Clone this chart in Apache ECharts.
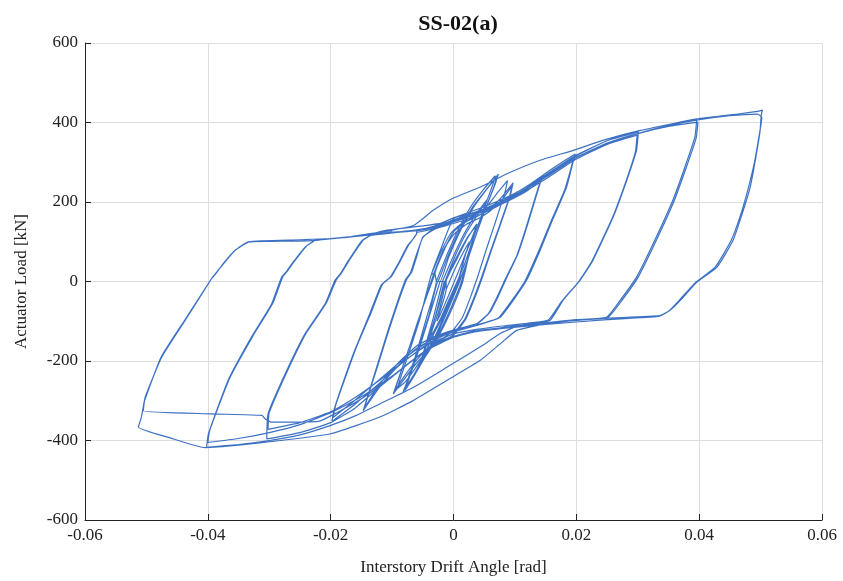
<!DOCTYPE html>
<html>
<head>
<meta charset="utf-8">
<script src="https://cdn.jsdelivr.net/npm/echarts@6/dist/echarts.min.js"></script>
<style>
  html, body {margin: 0; padding: 0; background: #fff;}
  #chart {width: 843px; height: 581px;}
</style>
</head>
<body>
<div id="chart"></div>
<script>
// drift angle [rad], load [kN], cycle by cycle
const cyc0025 = [[-0.0012,-20],[0.0005,40],[0.002,85],[0.0026,100],[0.0022,80],[0.0008,25],[-0.0008,-35],[-0.0022,-85],[-0.0027,-100],[-0.0023,-80],[-0.0012,-20]]
const cyc00375a = [[-0.0012,0],[0.0005,55],[0.0025,115],[0.0038,145],[0.0034,125],[0.002,70],[0.0008,0],[-0.001,-65],[-0.003,-125],[-0.004,-150],[-0.0036,-128],[-0.0022,-65],[-0.0012,0]]
const cyc00375b = [[-0.0014,0],[0.0003,55],[0.0023,112],[0.0037,140],[0.0033,120],[0.0019,66],[0.0007,0],[-0.0011,-62],[-0.0031,-122],[-0.0041,-146],[-0.0037,-124],[-0.0024,-62],[-0.0014,0]]
const cyc005a = [[-0.0015,0],[0,55],[0.002,120],[0.004,170],[0.0052,200],[0.0048,175],[0.0032,110],[0.0015,0],[0,-60],[-0.002,-125],[-0.004,-175],[-0.0053,-205],[-0.0048,-180],[-0.003,-90],[-0.0015,0]]
const cyc005b = [[-0.0018,0],[-0.0002,58],[0.0018,122],[0.0038,172],[0.0054,205],[0.0049,178],[0.0033,112],[0.0013,0],[-0.0003,-62],[-0.0023,-128],[-0.0043,-180],[-0.0056,-212],[-0.005,-184],[-0.0033,-92],[-0.0018,0]]
const cyc0075a = [[-0.0025,0],[-0.001,60],[0.001,130],[0.003,185],[0.005,225],[0.0073,270],[0.0068,245],[0.005,175],[0.0035,110],[0.0022,50],[0.001,0],[-0.001,-75],[-0.003,-145],[-0.005,-200],[-0.0065,-240],[-0.0079,-274],[-0.0074,-250],[-0.0058,-175],[-0.004,-85],[-0.0025,0]]
const cyc0075b = [[-0.0022,0],[-0.0008,60],[0.0012,130],[0.0032,185],[0.0052,228],[0.007,262],[0.0066,240],[0.0049,170],[0.0034,105],[0.0021,45],[0.0009,0],[-0.0012,-75],[-0.0032,-145],[-0.0052,-200],[-0.0066,-238],[-0.0077,-265],[-0.0072,-242],[-0.0056,-170],[-0.0038,-80],[-0.0022,0]]
const cyc0075c = [[-0.0028,0],[-0.0012,62],[0.0008,132],[0.0028,188],[0.0048,230],[0.0068,266],[0.0064,244],[0.0047,172],[0.0032,108],[0.0019,48],[0.0006,0],[-0.0015,-72],[-0.0035,-142],[-0.0055,-206],[-0.0068,-246],[-0.0082,-278],[-0.0076,-254],[-0.006,-178],[-0.0043,-86],[-0.0028,0]]
const cyc010a = [[-0.003,20],[-0.0015,80],[0,125],[0.002,150],[0.004,165],[0.006,185],[0.008,215],[0.0097,248],[0.0093,220],[0.0078,150],[0.0062,80],[0.0048,15],[0.0035,-40],[0.002,-95],[0,-135],[-0.002,-150],[-0.004,-172],[-0.006,-205],[-0.008,-245],[-0.0098,-283],[-0.0092,-255],[-0.0075,-180],[-0.0058,-100],[-0.0042,-30],[-0.003,20]]
const cyc010b = [[-0.0032,20],[-0.0017,78],[0,118],[0.002,143],[0.004,158],[0.006,178],[0.008,208],[0.0095,240],[0.0091,212],[0.0076,145],[0.006,75],[0.0046,12],[0.0033,-42],[0.0018,-96],[0,-130],[-0.002,-145],[-0.004,-165],[-0.006,-198],[-0.008,-238],[-0.0096,-275],[-0.009,-248],[-0.0074,-175],[-0.0057,-98],[-0.0043,-30],[-0.0032,20]]
const cyc010c = [[-0.0036,18],[-0.002,76],[-0.0004,122],[0.0016,150],[0.0036,168],[0.0056,192],[0.0074,228],[0.0088,254],[0.0084,226],[0.007,158],[0.0055,88],[0.0041,20],[0.0028,-38],[0.0014,-92],[-0.0004,-128],[-0.0024,-150],[-0.0044,-178],[-0.0062,-218],[-0.0078,-252],[-0.0092,-270],[-0.0087,-246],[-0.0071,-172],[-0.0055,-95],[-0.0045,-34],[-0.0036,18],[-0.0022,76]]
const cyc015a = [[0,158],[0.003,172],[0.006,188],[0.009,208],[0.012,233],[0.0144,262],[0.0138,232],[0.012,140],[0.0105,70],[0.0087,11],[0.0072,-40],[0.0059,-78],[0.004,-105],[0,-125],[-0.003,-142],[-0.006,-168],[-0.009,-212],[-0.012,-265],[-0.0147,-325],[-0.0142,-300],[-0.0125,-215],[-0.0108,-130],[-0.0092,-55],[-0.0078,5],[-0.007,22],[-0.0062,60],[-0.005,110],[-0.003,136]]
const cyc015b = [[0,152],[0.003,166],[0.006,182],[0.009,203],[0.012,228],[0.0142,255],[0.0136,226],[0.0118,135],[0.0103,65],[0.0085,8],[0.007,-42],[0.0057,-80],[0.0038,-106],[0,-122],[-0.003,-138],[-0.006,-162],[-0.009,-205],[-0.012,-258],[-0.0145,-318],[-0.014,-292],[-0.0123,-210],[-0.0106,-126],[-0.009,-52],[-0.0076,6],[-0.0068,24],[-0.006,62],[-0.005,112],[-0.003,132]]
const cyc020a = [[0,150],[0.004,172],[0.008,203],[0.012,240],[0.016,283],[0.0198,321],[0.0193,290],[0.0184,237],[0.016,150],[0.0141,78],[0.0119,3],[0.0097,-48],[0.0076,-90],[0.005,-105],[0.002,-118],[-0.001,-132],[-0.004,-155],[-0.008,-200],[-0.012,-255],[-0.016,-308],[-0.0198,-352],[-0.0194,-320],[-0.018,-255],[-0.016,-170],[-0.0136,-80],[-0.0118,-10],[-0.0103,11],[-0.009,45],[-0.0075,90],[-0.006,120]]
const cyc020b = [[-0.006,122],[-0.003,133],[0,146],[0.004,166],[0.008,196],[0.012,233],[0.016,276],[0.0196,313],[0.0191,283],[0.0181,230],[0.0157,145],[0.0138,74],[0.0116,0],[0.0094,-50],[0.0073,-92],[0.005,-104],[0.002,-116],[-0.001,-128],[-0.004,-150],[-0.008,-193],[-0.012,-246],[-0.016,-298],[-0.0196,-342],[-0.0192,-312],[-0.0178,-250],[-0.0158,-165],[-0.0134,-78],[-0.0116,-8],[-0.0101,13],[-0.0088,48],[-0.0073,92],[-0.006,122]]
const cyc030a = [[-0.006,125],[-0.003,138],[0,155],[0.005,183],[0.01,218],[0.015,265],[0.02,316],[0.025,354],[0.0301,376],[0.0298,330],[0.028,245],[0.026,162],[0.0227,53],[0.0206,3],[0.0178,-48],[0.0157,-98],[0.012,-108],[0.008,-116],[0.004,-125],[0,-140],[-0.004,-170],[-0.008,-215],[-0.012,-265],[-0.016,-318],[-0.02,-355],[-0.025,-380],[-0.0304,-396],[-0.0302,-333],[-0.0274,-232],[-0.0242,-132],[-0.0209,-56],[-0.0193,3],[-0.0185,18],[-0.0171,53],[-0.0149,103],[-0.0135,116],[-0.01,122],[-0.006,128]]
const cyc030b = [[-0.006,128],[-0.003,136],[0,150],[0.005,177],[0.01,212],[0.015,258],[0.02,308],[0.025,345],[0.0299,368],[0.0296,325],[0.0278,240],[0.0258,158],[0.0225,50],[0.0204,0],[0.0176,-50],[0.0155,-96],[0.012,-105],[0.008,-112],[0.004,-120],[0,-132],[-0.004,-158],[-0.008,-200],[-0.012,-248],[-0.016,-292],[-0.02,-328],[-0.025,-355],[-0.0302,-372],[-0.03,-330],[-0.0272,-230],[-0.024,-130],[-0.0207,-54],[-0.0191,4],[-0.0183,20],[-0.0169,55],[-0.0147,104],[-0.0133,117],[-0.01,124],[-0.006,128]]
const cyc040a = [[-0.006,128],[-0.003,140],[0,160],[0.005,188],[0.01,222],[0.015,268],[0.02,318],[0.025,354],[0.03,378],[0.035,395],[0.0396,407],[0.0393,363],[0.0375,280],[0.0357,204],[0.0325,95],[0.0298,11],[0.0271,-48],[0.0249,-90],[0.02,-96],[0.015,-104],[0.01,-115],[0.0076,-131],[0.0043,-165],[-0.0011,-216],[-0.0065,-266],[-0.012,-308],[-0.016,-338],[-0.02,-362],[-0.025,-386],[-0.03,-400],[-0.035,-410],[-0.0402,-417],[-0.0399,-383],[-0.0367,-249],[-0.0329,-140],[-0.0296,-56],[-0.028,11],[-0.0272,25],[-0.0263,45],[-0.0242,86],[-0.0226,103],[-0.02,108],[-0.015,115],[-0.01,123],[-0.006,130]]
const cyc040b = [[-0.006,130],[-0.003,138],[0,154],[0.005,182],[0.01,216],[0.015,262],[0.02,312],[0.025,348],[0.03,372],[0.035,390],[0.0398,401],[0.0395,360],[0.0377,278],[0.0359,202],[0.0327,93],[0.03,9],[0.0273,-50],[0.0251,-91],[0.02,-97],[0.015,-106],[0.008,-116],[0.003,-126],[-0.002,-148],[-0.006,-190],[-0.01,-238],[-0.015,-290],[-0.02,-330],[-0.025,-360],[-0.03,-380],[-0.035,-395],[-0.04,-405],[-0.0397,-375],[-0.0365,-245],[-0.0327,-138],[-0.0294,-54],[-0.0278,12],[-0.027,27],[-0.0261,47],[-0.024,88],[-0.0224,104],[-0.018,110],[-0.014,117],[-0.012,124]]
const cyc050a = [[-0.012,124],[-0.0065,141],[-0.0033,179],[0,210],[0.0043,237],[0.0087,271],[0.0141,305],[0.0195,330],[0.025,358],[0.0304,380],[0.0357,397],[0.0396,409],[0.0466,422],[0.0496,428],[0.0503,431],[0.0501,418],[0.0499,376],[0.0492,310],[0.0483,237],[0.047,170],[0.0455,103],[0.0429,36],[0.0396,-2],[0.0369,-48],[0.0352,-73],[0.0336,-86],[0.0243,-93],[0.0152,-106],[0.0103,-123],[0.0076,-157],[0.0043,-199],[-0.0011,-249],[-0.0065,-299],[-0.012,-341],[-0.02,-383],[-0.0282,-400],[-0.035,-412],[-0.0404,-418],[-0.046,-394],[-0.0513,-366],[-0.0508,-340],[-0.0502,-291],[-0.0475,-190],[-0.0437,-98],[-0.0394,7],[-0.0386,22],[-0.0383,28],[-0.0375,45],[-0.0356,78],[-0.0334,99],[-0.03,101],[-0.0231,103],[-0.0139,118],[-0.0112,128]]
const cyc050b = [[-0.0112,128],[-0.005,140],[0,152],[0.005,178],[0.01,212],[0.015,258],[0.02,308],[0.025,345],[0.03,372],[0.035,392],[0.04,407],[0.045,417],[0.0495,421],[0.0502,412],[0.0498,370],[0.049,300],[0.048,235],[0.0468,170],[0.0452,103],[0.0426,36],[0.0393,-4],[0.0366,-50],[0.035,-75],[0.0333,-88],[0.025,-96],[0.015,-108],[0.008,-118],[0.003,-128],[-0.002,-150],[-0.006,-190],[-0.01,-240],[-0.015,-295],[-0.019,-330],[-0.022,-352],[-0.0296,-354],[-0.0307,-345],[-0.0312,-337],[-0.0394,-333],[-0.0505,-325],[-0.0503,-300],[-0.0476,-190],[-0.0438,-98],[-0.0395,5],[-0.0385,25],[-0.0356,78],[-0.0334,100],[-0.025,105],[-0.018,110],[-0.0139,120],[-0.01,128]]

const loadHistory = [
  cyc0025, cyc00375a, cyc00375b, cyc005a, cyc005b,
  cyc0075a, cyc0075b, cyc0075c, cyc010a, cyc010b, cyc010c,
  cyc015a, cyc015b, cyc020a, cyc020b, cyc030a, cyc030b,
  cyc040a, cyc040b, cyc050a, cyc050b
].flat()

const serif = '"Liberation Serif", "Times New Roman", serif'

const myChart = echarts.init(document.getElementById('chart'))
myChart.setOption({
  animation: false,
  title: {
    text: 'SS-02(a)',
    left: 453,
    top: 8,
    textAlign: 'center',
    textStyle: {fontFamily: serif, fontWeight: 'bold', fontSize: 22, color: '#111'}
  },
  grid: {left: 85, right: 21, top: 43, bottom: 61},
  xAxis: {
    type: 'value',
    min: -0.06,
    max: 0.06,
    interval: 0.02,
    name: 'Interstory Drift Angle [rad]',
    nameLocation: 'middle',
    nameGap: 39,
    nameTextStyle: {fontFamily: serif, fontSize: 17, color: '#222'},
    axisLine: {onZero: false, lineStyle: {color: '#222', width: 1}},
    axisTick: {inside: true, length: 6, lineStyle: {color: '#222'}},
    axisLabel: {
      fontFamily: serif, fontSize: 17, color: '#222', margin: 7,
      formatter: v => String(Number(v.toFixed(2)))
    },
    splitLine: {lineStyle: {color: '#dedede', width: 1}}
  },
  yAxis: {
    type: 'value',
    min: -600,
    max: 600,
    interval: 200,
    name: 'Actuator Load [kN]',
    nameLocation: 'middle',
    nameGap: 55,
    nameTextStyle: {fontFamily: serif, fontSize: 17, color: '#222'},
    axisLine: {show: true, onZero: false, lineStyle: {color: '#222', width: 1}},
    axisTick: {show: true, inside: true, length: 6, lineStyle: {color: '#222'}},
    axisLabel: {fontFamily: serif, fontSize: 17, color: '#222', margin: 7},
    splitLine: {lineStyle: {color: '#dedede', width: 1}}
  },
  series: [{
    type: 'line',
    data: loadHistory,
    showSymbol: false,
    symbol: 'none',
    smooth: 0.15,
    lineStyle: {color: '#2762bd', width: 1.2, opacity: 0.9}
  }]
})
</script>
</body>
</html>
